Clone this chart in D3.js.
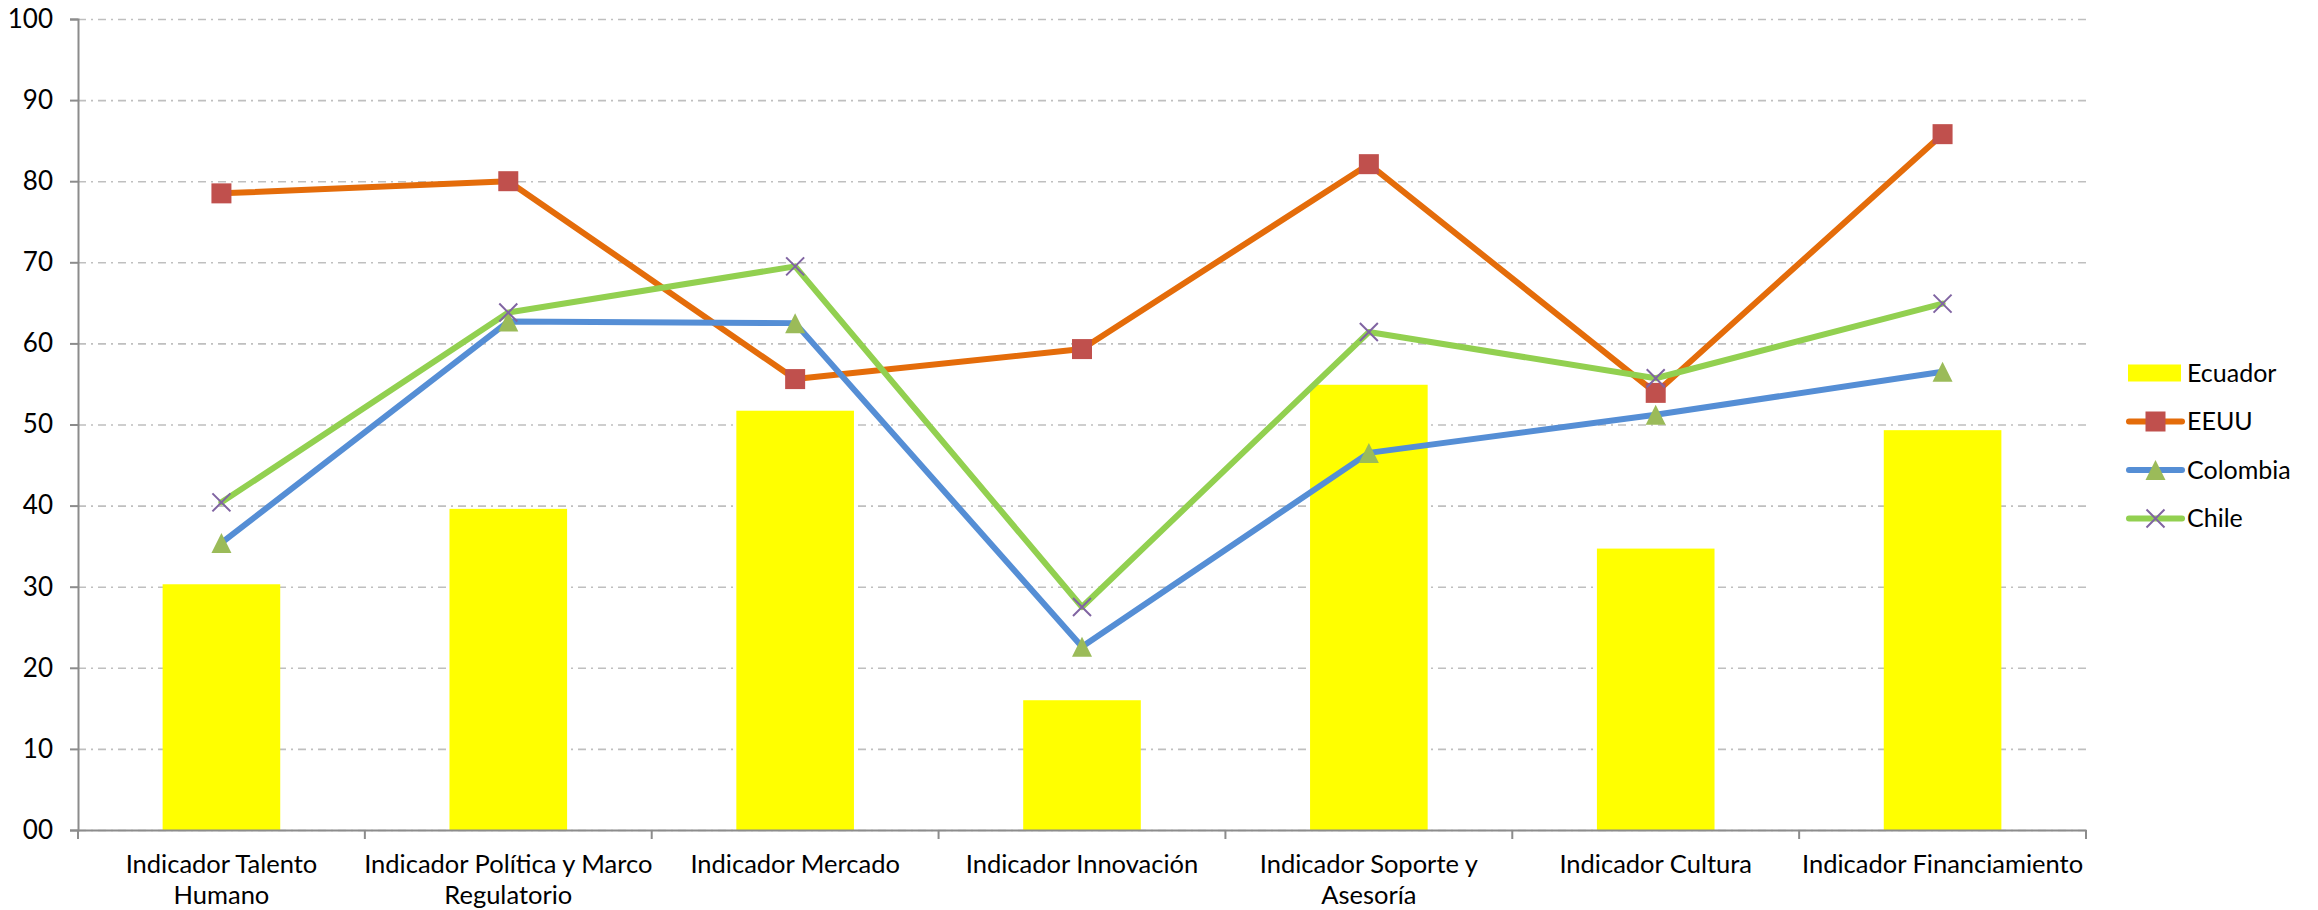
<!DOCTYPE html>
<html>
<head>
<meta charset="utf-8">
<script src="https://cdn.jsdelivr.net/npm/d3@7"></script>
<style>
  body { margin: 0; background: #fff; }
  text { font-family: Lato, "Noto Sans", sans-serif; fill: #000; }
</style>
</head>
<body>
<svg id="chart" width="2318" height="910"></svg>
<script>
// categorias y series
let categorias = ["Talento", "Politica", "Mercado", "Innovacion", "Soporte", "Cultura", "Financiamiento"]
let etiquetas = [
    ["Indicador Talento", "Humano"],
    ["Indicador Política y Marco", "Regulatorio"],
    ["Indicador Mercado"],
    ["Indicador Innovación"],
    ["Indicador Soporte y", "Asesoría"],
    ["Indicador Cultura"],
    ["Indicador Financiamiento"]
]
let ecuador  = [30.3, 39.6, 51.7, 16.0, 54.9, 34.7, 49.3]
let eeuu     = [78.5, 80.0, 55.6, 59.3, 82.1, 53.9, 85.8]
let colombia = [35.4, 62.7, 62.5, 22.6, 46.5, 51.2, 56.5]
let chile    = [40.4, 63.8, 69.5, 27.5, 61.4, 55.7, 64.9]
let yTicks = [0, 10, 20, 30, 40, 50, 60, 70, 80, 90, 100]

let svg = d3.select("#chart")

let plotLeft = 78, plotRight = 2086, plotTop = 19, plotBottom = 830

let xScale = d3.scaleBand().domain(categorias).range([plotLeft, plotRight]).padding(0)
let yScale = d3.scaleLinear().domain([0, 100]).range([plotBottom, plotTop])
let centro = c => xScale(c) + xScale.bandwidth() / 2

// lineas de cuadricula
svg.append("g")
    .attr("transform", `translate(${plotLeft},0)`)
    .call(d3.axisLeft(yScale).tickValues(yTicks).tickSize(-(plotRight - plotLeft)).tickFormat(""))
    .call(g => g.select(".domain").remove())
    .selectAll("line")
    .attr("stroke", "#bfbfbf")
    .attr("stroke-width", 1.6)
    .attr("stroke-dasharray", "8,5,2,5")

// barras Ecuador
let anchoBarra = xScale.bandwidth() * 0.41
svg.append("g").selectAll("rect")
    .data(ecuador)
    .enter()
    .append("rect")
    .attr("x", (d, i) => centro(categorias[i]) - anchoBarra / 2)
    .attr("y", d => yScale(d))
    .attr("width", anchoBarra)
    .attr("height", d => yScale(0) - yScale(d))
    .style("fill", "#ffff00")

// eje Y
let yAxisGroup = svg.append("g")
    .attr("transform", `translate(${plotLeft},0)`)
    .call(d3.axisLeft(yScale).tickValues(yTicks).tickSize(8).tickPadding(17).tickFormat(d3.format("02d")))
yAxisGroup.select(".domain").attr("stroke", "#8c8c8c").attr("stroke-width", 2)
yAxisGroup.selectAll("line").attr("stroke", "#8c8c8c").attr("stroke-width", 2)
yAxisGroup.selectAll("text")
    .style("font-size", "26px")
    .style("font-family", "Lato, sans-serif")
    .attr("fill", "#000")

// eje X
let xAxisGroup = svg.append("g")
    .attr("transform", `translate(0,${plotBottom})`)
    .call(d3.axisBottom(xScale).tickSize(0).tickFormat(""))
xAxisGroup.select(".domain").attr("stroke", "#8c8c8c").attr("stroke-width", 2)
let bordes = categorias.map(c => xScale(c)).concat([plotRight])
xAxisGroup.selectAll(".borde")
    .data(bordes)
    .enter()
    .append("line")
    .attr("x1", d => d).attr("x2", d => d)
    .attr("y1", 0).attr("y2", 9)
    .attr("stroke", "#8c8c8c")
    .attr("stroke-width", 2)

let etiquetasX = svg.append("g").selectAll("text")
    .data(etiquetas)
    .enter()
    .append("text")
    .attr("text-anchor", "middle")
    .style("font-size", "25.5px")
    .attr("transform", (d, i) => `translate(${centro(categorias[i])},${plotBottom + 43})`)
etiquetasX.selectAll("tspan")
    .data(d => d)
    .enter()
    .append("tspan")
    .attr("x", 0)
    .attr("dy", (d, i) => i == 0 ? 0 : 31)
    .text(d => d)

// series de lineas
let series = [
    {nombre: "EEUU", valores: eeuu, linea: "#e46c0a", marcador: "cuadrado", color: "#c0504d"},
    {nombre: "Colombia", valores: colombia, linea: "#558ed5", marcador: "triangulo", color: "#9bbb59"},
    {nombre: "Chile", valores: chile, linea: "#92d050", marcador: "cruz", color: "#8064a2"}
]

let line = d3.line()
    .x((d, i) => centro(categorias[i]))
    .y(d => yScale(d))

function dibujarMarcador(g, tipo, color) {
    if (tipo == "cuadrado") {
        g.append("rect").attr("x", -10).attr("y", -10).attr("width", 20).attr("height", 20).style("fill", color)
    } else if (tipo == "triangulo") {
        g.append("path").attr("d", "M0,-10L10,10L-10,10Z").style("fill", color)
    } else {
        g.append("path").attr("d", "M-9,-9L9,9M-9,9L9,-9")
            .attr("stroke", color).attr("stroke-width", 2).style("fill", "none")
    }
}

series.forEach(s => {
    svg.append("path")
        .datum(s.valores)
        .attr("d", line)
        .attr("fill", "none")
        .attr("stroke", s.linea)
        .attr("stroke-width", 6)
        .attr("stroke-linejoin", "round")
        .attr("stroke-linecap", "round")
})
series.forEach(s => {
    svg.append("g").selectAll("g")
        .data(s.valores)
        .enter()
        .append("g")
        .attr("transform", (d, i) => `translate(${centro(categorias[i])},${yScale(d)})`)
        .each(function() { dibujarMarcador(d3.select(this), s.marcador, s.color) })
})

// leyenda
let leyenda = svg.append("g").attr("transform", "translate(2128,373)")
let fila = 48.5
leyenda.append("rect").attr("x", 0).attr("y", -8.5).attr("width", 53).attr("height", 17).style("fill", "#ffff00")
leyenda.append("text").attr("x", 59).attr("y", 0).attr("dy", "0.35em").style("font-size", "25px").text("Ecuador")
series.forEach((s, i) => {
    let g = leyenda.append("g").attr("transform", `translate(0,${fila * (i + 1)})`)
    g.append("line").attr("x1", 1).attr("x2", 54).attr("y1", 0).attr("y2", 0)
        .attr("stroke", s.linea).attr("stroke-width", 6).attr("stroke-linecap", "round")
    let m = g.append("g").attr("transform", "translate(27.5,0)")
    dibujarMarcador(m, s.marcador, s.color)
    g.append("text").attr("x", 59).attr("y", 0).attr("dy", "0.35em").style("font-size", "25px").text(s.nombre)
})
</script>
</body>
</html>
